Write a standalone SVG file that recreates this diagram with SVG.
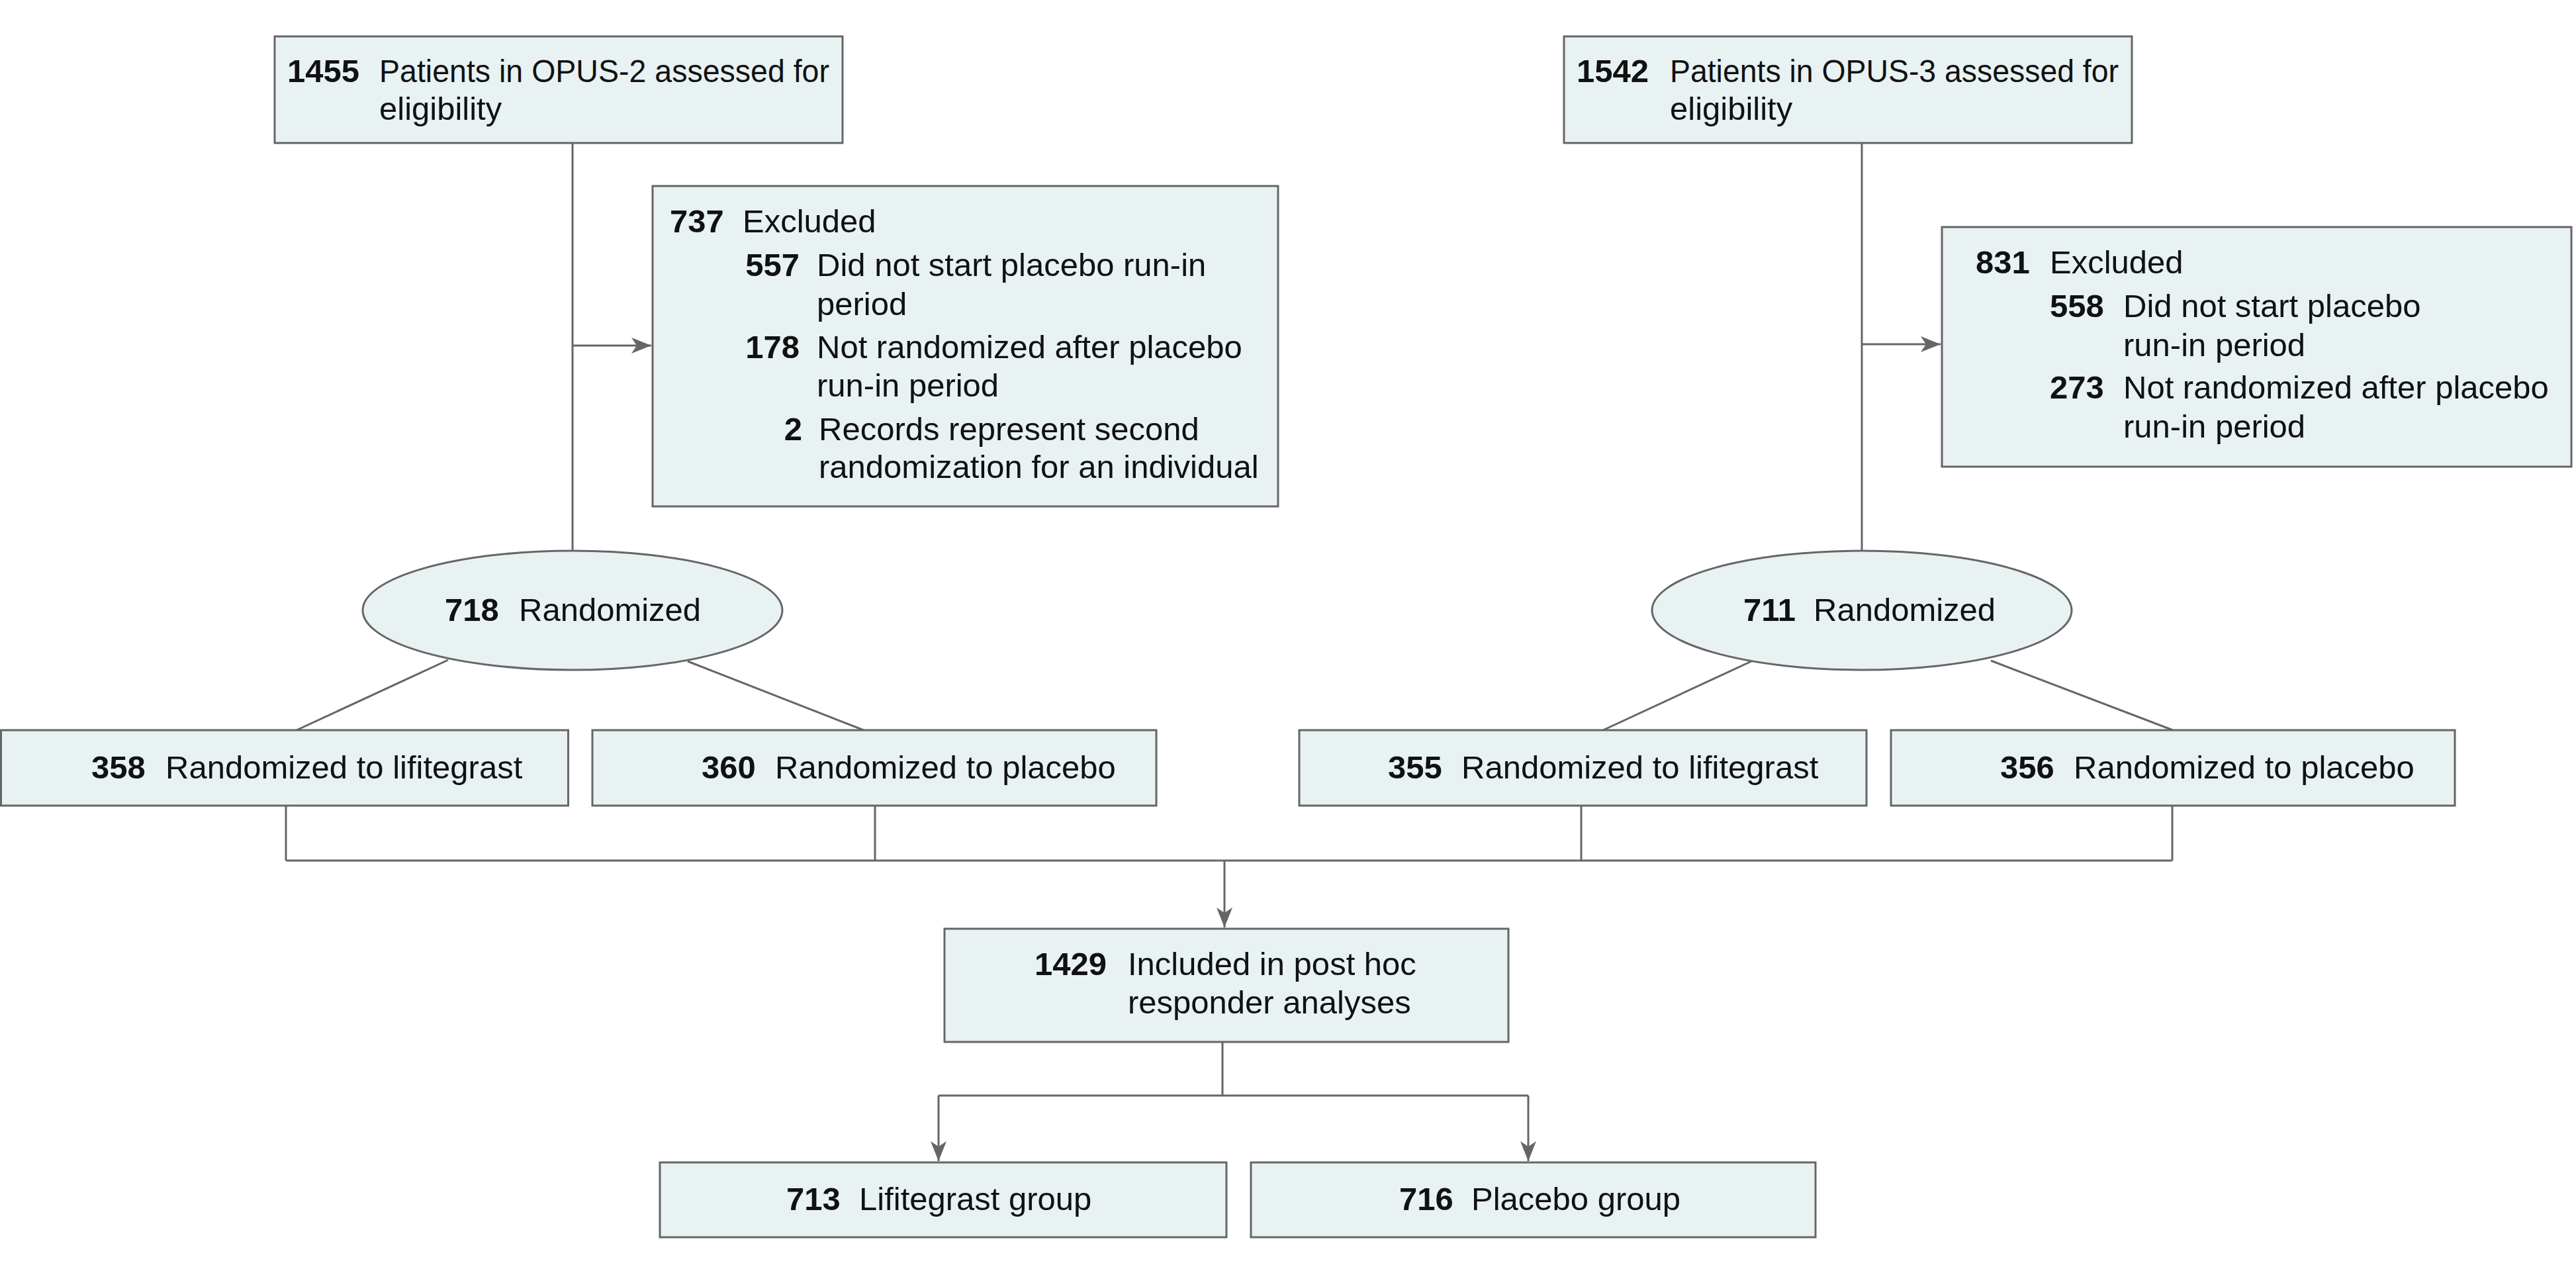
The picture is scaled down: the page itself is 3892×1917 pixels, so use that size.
<svg xmlns="http://www.w3.org/2000/svg" width="3892" height="1917" viewBox="0 0 3892 1917">
<style>
.box{fill:#e8f2f3;stroke:#666;stroke-width:3}
.ln{fill:none;stroke:#666;stroke-width:3}
text{font-family:"Liberation Sans",Arial,sans-serif;font-size:49px;fill:#111}
.n{font-weight:bold}
</style>
<defs>
<marker id="ah" markerUnits="userSpaceOnUse" markerWidth="32" markerHeight="26" refX="30" refY="12" orient="auto">
<path d="M0,0 L30,12 L0,24 L8,12 z" fill="#666"/>
</marker>
</defs>
<rect width="3892" height="1917" fill="#fff"/>
<g id="connectors">
<line class="ln" x1="865" y1="216" x2="865" y2="832"/>
<line class="ln" x1="865" y1="522" x2="984" y2="522" marker-end="url(#ah)"/>
<line class="ln" x1="2813" y1="216" x2="2813" y2="832"/>
<line class="ln" x1="2813" y1="520" x2="2932" y2="520" marker-end="url(#ah)"/>
<line class="ln" x1="677" y1="997" x2="448" y2="1103"/>
<line class="ln" x1="1039" y1="999" x2="1305" y2="1103"/>
<line class="ln" x1="2646" y1="999" x2="2422" y2="1103"/>
<line class="ln" x1="3008" y1="998" x2="3283" y2="1103"/>
<path class="ln" d="M432,1217 V1300 M1322,1217 V1300 M2389,1217 V1300 M3282,1217 V1300 M432,1300 H3282"/>
<line class="ln" x1="1850" y1="1300" x2="1850" y2="1401" marker-end="url(#ah)"/>
<path class="ln" d="M1847,1574 V1655 M1418,1655 H2309"/>
<line class="ln" x1="1418" y1="1655" x2="1418" y2="1754" marker-end="url(#ah)"/>
<line class="ln" x1="2309" y1="1655" x2="2309" y2="1754" marker-end="url(#ah)"/>
</g>
<g id="opus2">
<rect class="box" x="415" y="55" width="858" height="161"/>
<text x="434" y="124" class="n">1455</text>
<text x="573" y="124" textLength="680" lengthAdjust="spacingAndGlyphs">Patients in OPUS-2 assessed for</text>
<text x="573" y="181">eligibility</text>
</g>
<g id="opus3">
<rect class="box" x="2363" y="55" width="858" height="161"/>
<text x="2382" y="124" class="n">1542</text>
<text x="2523" y="124" textLength="678" lengthAdjust="spacingAndGlyphs">Patients in OPUS-3 assessed for</text>
<text x="2523" y="181">eligibility</text>
</g>
<g id="excluded2">
<rect class="box" x="986" y="281" width="945" height="484"/>
<text x="1012" y="351" class="n">737</text>
<text x="1122" y="351">Excluded</text>
<text x="1208" y="417" class="n" text-anchor="end">557</text>
<text x="1234" y="417">Did not start placebo run-in</text>
<text x="1234" y="476">period</text>
<text x="1208" y="541" class="n" text-anchor="end">178</text>
<text x="1234" y="541">Not randomized after placebo</text>
<text x="1234" y="599">run-in period</text>
<text x="1212" y="665" class="n" text-anchor="end">2</text>
<text x="1237" y="665">Records represent second</text>
<text x="1237" y="722">randomization for an individual</text>
</g>
<g id="excluded3">
<rect class="box" x="2934" y="343" width="951" height="362"/>
<text x="2985" y="413" class="n">831</text>
<text x="3097" y="413">Excluded</text>
<text x="3097" y="479" class="n">558</text>
<text x="3208" y="479">Did not start placebo</text>
<text x="3208" y="538">run-in period</text>
<text x="3097" y="602" class="n">273</text>
<text x="3208" y="602">Not randomized after placebo</text>
<text x="3208" y="661">run-in period</text>
</g>
<g id="rand2">
<ellipse class="box" cx="865" cy="922" rx="317" ry="90"/>
<text x="672" y="938" class="n">718</text>
<text x="784" y="938">Randomized</text>
</g>
<g id="rand3">
<ellipse class="box" cx="2813" cy="922" rx="317" ry="90"/>
<text x="2634" y="938" class="n">711</text>
<text x="2740" y="938">Randomized</text>
</g>
<g id="lif2">
<rect class="box" x="1.5" y="1103" width="857" height="114"/>
<text x="138" y="1176" class="n">358</text>
<text x="250" y="1176">Randomized to lifitegrast</text>
</g>
<g id="pla2">
<rect class="box" x="895" y="1103" width="852" height="114"/>
<text x="1060" y="1176" class="n">360</text>
<text x="1171" y="1176">Randomized to placebo</text>
</g>
<g id="lif3">
<rect class="box" x="1963" y="1103" width="857" height="114"/>
<text x="2097" y="1176" class="n">355</text>
<text x="2208" y="1176">Randomized to lifitegrast</text>
</g>
<g id="pla3">
<rect class="box" x="2857" y="1103" width="852" height="114"/>
<text x="3022" y="1176" class="n">356</text>
<text x="3133" y="1176">Randomized to placebo</text>
</g>
<g id="included">
<rect class="box" x="1427" y="1403" width="852" height="171"/>
<text x="1563" y="1473" class="n">1429</text>
<text x="1704" y="1473">Included in post hoc</text>
<text x="1704" y="1531">responder analyses</text>
</g>
<g id="lifgroup">
<rect class="box" x="997" y="1756" width="856" height="113"/>
<text x="1188" y="1828" class="n">713</text>
<text x="1298" y="1828">Lifitegrast group</text>
</g>
<g id="plagroup">
<rect class="box" x="1890" y="1756" width="853" height="113"/>
<text x="2114" y="1828" class="n">716</text>
<text x="2223" y="1828">Placebo group</text>
</g>
</svg>
